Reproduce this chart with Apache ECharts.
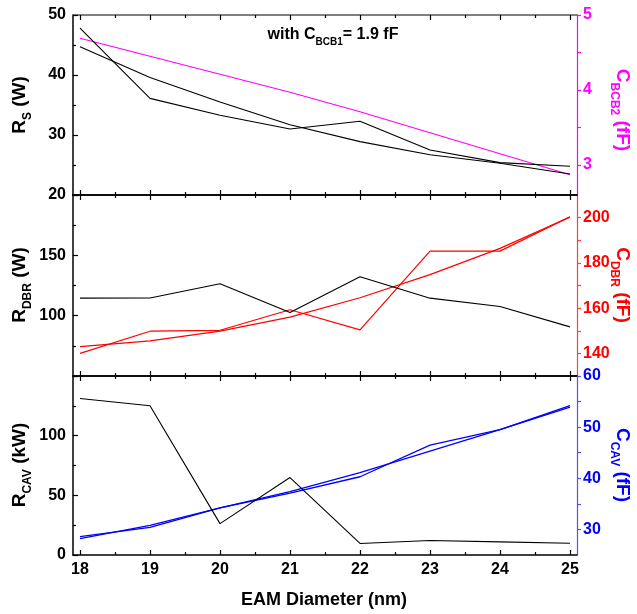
<!DOCTYPE html>
<html><head><meta charset="utf-8">
<script src="https://cdn.jsdelivr.net/npm/echarts@6/dist/echarts.min.js"></script>
<style>html,body{margin:0;padding:0;background:#fff}#c{width:637px;height:614px}</style>
</head><body><div id="c"></div>
<script>
// ---- data ----
const diameters = [18, 19, 20, 21, 22, 23, 24, 25];
const xTickLabels = [18, 19, 20, 21, 22, 23, 24, 25];
const xMinorTicks = [18.5, 19.5, 20.5, 21.5, 22.5, 23.5, 24.5];

// panel 1
const rsFit = [47.8, 36.1, 33.3, 31.0, 32.3, 27.5, 25.4, 24.8];
const rsModel = [44.7, 39.6, 35.5, 31.7, 28.9, 26.7, 25.3, 23.5];
const cBCB2 = [4.69, 4.45, 4.21, 3.97, 3.71, 3.43, 3.15, 2.87];
const cBCB2Labels = [3, 4, 5];
const cBCB2Ticks = [3, 3.5, 4, 4.5, 5];

// panel 2
const rDBR = [114.5, 114.7, 126.5, 102.7, 132.2, 114.5, 107.6, 90.7];
const cDBRFit = [140, 149.8, 150.2, 159.3, 150.4, 185.2, 185.2, 200.4];
const cDBRModel = [143, 145.5, 149.8, 156, 164.6, 174.8, 186.4, 200.2];
const rDBRLabels = [100, 150];
const cDBRLabels = [140, 160, 180, 200];
const cDBRTicks = [140, 150, 160, 170, 180, 190, 200];

// panel 3
const rCAV = [131.2, 125.1, 26.3, 64.9, 9.7, 12.2, 11.0, 9.9];
const cCAVFit = [28.6, 30.4, 34.2, 37.1, 40.3, 46.5, 49.5, 54.2];
const cCAVModel = [28.2, 30.8, 34.2, 37.4, 41.1, 45.3, 49.5, 53.9];
const rCAVLabels = [0, 50, 100];
const cCAVLabels = [30, 40, 50, 60];
const cCAVTicks = [30, 35, 40, 45, 50, 55, 60];

// ---- styling ----
const FONT = 'Liberation Sans';
const MAGENTA = '#ff00ff', RED = '#ff0000', BLUE = '#0000ff';
const grids = [
  { left: 73, right: 60, top: 15, height: 180 },
  { left: 73, right: 60, top: 195, height: 181 },
  { left: 73, right: 60, top: 376, height: 179 }
];
const XMIN = 17.9, XMAX = 25.1;

const xAxes = [];
grids.forEach((g, gi) => {
  const base = { type: 'value', gridIndex: gi, min: XMIN, max: XMAX, splitLine: { show: false } };
  xAxes.push(Object.assign({}, base, {
    position: 'bottom',
    axisLine: { show: true, onZero: false, lineStyle: { color: '#000', width: 1.5 } },
    axisTick: { show: true, inside: true, length: 5, customValues: xTickLabels, lineStyle: { color: '#000', width: 1.2 } },
    axisLabel: { show: gi === 2, customValues: xTickLabels, color: '#000', fontFamily: FONT, fontWeight: 'bold', fontSize: 16, margin: 7 }
  }));
  xAxes.push(Object.assign({}, base, {
    position: 'bottom',
    axisLine: { show: false, onZero: false },
    axisTick: { show: true, inside: true, length: 3, customValues: xMinorTicks, lineStyle: { color: '#000', width: 1.2 } },
    axisLabel: { show: false }
  }));
  xAxes.push(Object.assign({}, base, {
    position: 'top',
    axisLine: { show: true, onZero: false, lineStyle: { color: gi === 0 ? '#555' : '#000', width: 1.5 } },
    axisTick: { show: true, inside: true, length: 5, customValues: xTickLabels, lineStyle: { color: '#000', width: 1.2 } },
    axisLabel: { show: false }
  }));
  xAxes.push(Object.assign({}, base, {
    position: 'top',
    axisLine: { show: false, onZero: false },
    axisTick: { show: true, inside: true, length: 3, customValues: xMinorTicks, lineStyle: { color: '#000', width: 1.2 } },
    axisLabel: { show: false }
  }));
});

function leftAxis(gi, min, max, interval, labelVals) {
  return {
    type: 'value', gridIndex: gi, position: 'left', min: min, max: max, interval: interval,
    splitLine: { show: false },
    axisLine: { show: true, onZero: false, lineStyle: { color: '#000', width: 1.5 } },
    axisTick: { show: true, inside: true, length: 5, lineStyle: { color: '#000', width: 1.2 } },
    minorTick: { show: true, splitNumber: 2, length: 3, lineStyle: { color: '#000', width: 1.2 } },
    axisLabel: {
      color: '#000', fontFamily: FONT, fontWeight: 'bold', fontSize: 16, margin: 7,
      formatter: v => (labelVals === null || labelVals.indexOf(v) >= 0) ? String(v) : ''
    }
  };
}
function rightAxis(gi, min, max, labels, ticks, color, lineColor) {
  return {
    type: 'value', gridIndex: gi, position: 'right', min: min, max: max,
    splitLine: { show: false },
    axisLine: { show: true, onZero: false, lineStyle: { color: lineColor, width: 1.2 } },
    axisTick: { show: true, inside: false, length: 4, customValues: ticks, lineStyle: { color: lineColor, width: 1.2 } },
    axisLabel: { customValues: labels, color: color, fontFamily: FONT, fontWeight: 'bold', fontSize: 16, margin: 6 }
  };
}
const yAxes = [
  leftAxis(0, 20, 50, 10, null),
  rightAxis(0, 2.6, 5, cBCB2Labels, cBCB2Ticks, MAGENTA, MAGENTA),
  leftAxis(1, 50, 200, 50, rDBRLabels),
  rightAxis(1, 130, 210, cDBRLabels, cDBRTicks, RED, '#ff4040'),
  leftAxis(2, 0, 150, 50, rCAVLabels),
  rightAxis(2, 25, 60, cCAVLabels, cCAVTicks, BLUE, '#5050ff')
];

function line(vals, gi, yi, color, w) {
  return {
    type: 'line', xAxisIndex: gi * 4, yAxisIndex: yi, showSymbol: false, symbol: 'none',
    data: diameters.map((d, i) => [d, vals[i]]),
    lineStyle: { color: color, width: w }, itemStyle: { color: color }, z: 3
  };
}

const series = [
  line(cBCB2, 0, 1, MAGENTA, 1.2),
  line(rsFit, 0, 0, '#000', 1.1),
  line(rsModel, 0, 0, '#000', 1.1),
  line(cDBRFit, 1, 3, RED, 1.2),
  line(cDBRModel, 1, 3, RED, 1.2),
  line(rDBR, 1, 2, '#000', 1.1),
  line(cCAVFit, 2, 5, BLUE, 1.3),
  line(cCAVModel, 2, 5, BLUE, 1.3),
  line(rCAV, 2, 4, '#000', 1.1)
];

function richName(text, x, y, color, rot) {
  return {
    type: 'text', x: x, y: y, rotation: rot, z: 10,
    style: {
      text: text, fill: color, align: 'center', verticalAlign: 'middle',
      rich: {
        m: { fontSize: 19, fontWeight: 'bold', fontFamily: FONT, fill: color, verticalAlign: 'bottom', padding: [0, 0, 5, 0] },
        s: { fontSize: 12, fontWeight: 'bold', fontFamily: FONT, fill: color, verticalAlign: 'bottom' }
      }
    }
  };
}

const graphic = [
  richName('{m|R}{s|S}{m| (W)}', 22, 105, '#000', Math.PI / 2),
  richName('{m|R}{s|DBR}{m| (W)}', 22, 285, '#000', Math.PI / 2),
  richName('{m|R}{s|CAV}{m| (kW)}', 22, 465, '#000', Math.PI / 2),
  richName('{m|C}{s|BCB2}{m| (fF)}', 620, 110, MAGENTA, -Math.PI / 2),
  richName('{m|C}{s|DBR}{m| (fF)}', 620, 285, RED, -Math.PI / 2),
  richName('{m|C}{s|CAV}{m| (fF)}', 620, 465, BLUE, -Math.PI / 2),
  {
    type: 'text', x: 333, y: 37, z: 10,
    style: {
      text: '{m|with C}{s|BCB1}{m|= 1.9 fF}', align: 'center', verticalAlign: 'middle', fill: '#000',
      rich: {
        m: { fontSize: 16, fontWeight: 'bold', fontFamily: FONT, fill: '#000', verticalAlign: 'bottom', padding: [0, 0, 4, 0] },
        s: { fontSize: 10, fontWeight: 'bold', fontFamily: FONT, fill: '#000', verticalAlign: 'bottom' }
      }
    }
  },
  {
    type: 'text', x: 324, y: 600, z: 10,
    style: { text: 'EAM Diameter (nm)', fill: '#000', align: 'center', verticalAlign: 'middle', font: 'bold 18px "Liberation Sans"' }
  }
];

const chart = echarts.init(document.getElementById('c'), null, { renderer: 'canvas' });
chart.setOption({
  animation: false,
  backgroundColor: '#fff',
  grid: grids,
  xAxis: xAxes,
  yAxis: yAxes,
  series: series,
  graphic: graphic
});
</script>
</body></html>
